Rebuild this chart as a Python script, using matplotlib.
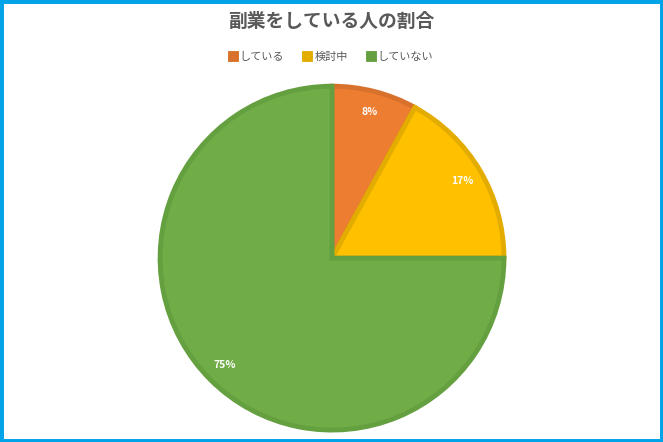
import matplotlib.pyplot as plt
from matplotlib.patches import Rectangle

plt.rcParams['font.family'] = ['Noto Sans CJK JP', 'DejaVu Sans']

labels = ['している', '検討中', 'していない']
values = [8, 17, 75]
colors = ['#ED7D31', '#FFC000', '#70AD47']
edges = ['#D8712C', '#E3AC00', '#65A040']

fig = plt.figure(figsize=(6.63, 4.42), dpi=100)
ax = fig.add_axes([0.5008 - 0.2594, 0.416 - 0.389, 0.5188, 0.778])

wedges, texts, autotexts = ax.pie(
    values, colors=colors, startangle=90, counterclock=False,
    autopct='%d%%', pctdistance=0.88,
    wedgeprops=dict(linewidth=3.5, joinstyle='miter'),
    textprops=dict(color='white', fontsize=7.5, fontweight='bold'))
for w, e in zip(wedges, edges):
    w.set_edgecolor(e)
ax.set_xlim(-1.0, 1.0)
ax.set_ylim(-1.0, 1.0)
ax.set_aspect('equal')

fig.text(0.5, 0.952, '副業をしている人の割合', ha='center', va='center',
         fontsize=13.5, fontweight='bold', color='#595959')
fig.legend(wedges, labels, loc='center', bbox_to_anchor=(0.5, 0.871), ncol=3,
           frameon=False, fontsize=8, labelcolor='#595959', handlelength=0.55,
           handleheight=0.55, handletextpad=0.35, columnspacing=1.8)

fig.patches.append(Rectangle((0, 0), 1, 1, transform=fig.transFigure,
                             fill=False, edgecolor='#00A2E8', linewidth=5))

fig.savefig('out.png', dpi=100)
